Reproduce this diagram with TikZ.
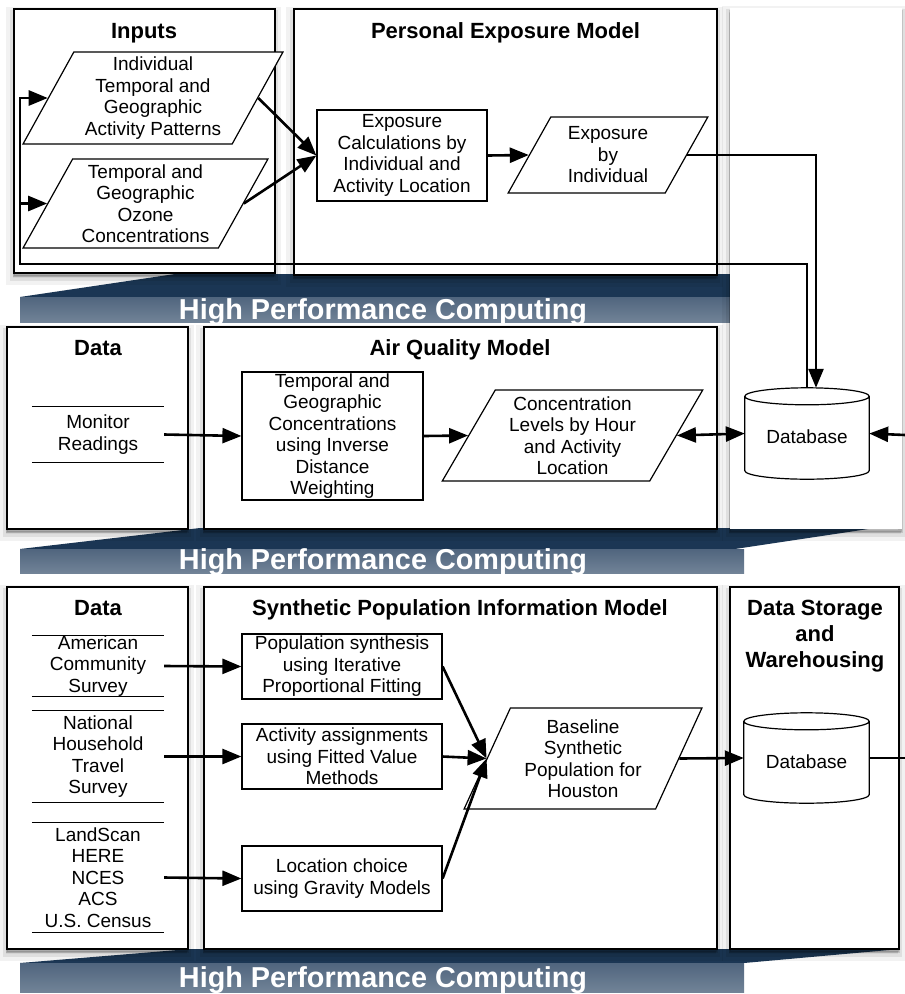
\documentclass[tikz,border=0pt]{standalone}
\usepackage{fontspec}
\setmainfont{Liberation Sans}
\usetikzlibrary{shapes.geometric,arrows.meta,calc,shadows}
\definecolor{navy}{HTML}{1B3654}
\definecolor{bartop}{HTML}{50657E}
\definecolor{barbot}{HTML}{718397}
\newcommand{\bodysize}{\fontsize{19}{21.5}\selectfont}
\newcommand{\titlesize}{\fontsize{22}{26}\selectfont\bfseries}
\newcommand{\drawdb}[1]{%
  \path[dbline] let \p1=(#1.north west), \p2=(#1.south east), \n1={(\x2-\x1)/2} in
    (\x1,\y1-8.5pt) -- (\x1,\y2+8.5pt)
    arc[start angle=180,end angle=360,x radius=\n1,y radius=8.5pt]
    -- (\x2,\y1-8.5pt)
    arc[start angle=0,end angle=360,x radius=\n1,y radius=8.5pt];}
\begin{document}
\begin{tikzpicture}[x=1pt,y=-1pt,
  every node/.style={inner sep=0pt},
  softshadow/.style={
    general shadow={fill=black,draw=black,fill opacity=0.05,draw opacity=0.05,line width=14pt,shadow yshift=-5pt,shadow xshift=-1pt},
    general shadow={fill=black,draw=black,fill opacity=0.08,draw opacity=0.08,line width=7pt,shadow yshift=-4pt,shadow xshift=-1pt},
    general shadow={fill=black,draw=black,fill opacity=0.12,draw opacity=0.12,line width=2pt,shadow yshift=-3pt}},
  panelbox/.style={draw=black,line width=1.5pt,fill=white,softshadow},
  blankpanel/.style={draw=none,fill=white,softshadow},
  paneltitle/.style={font=\titlesize,align=center},
  procbox/.style={draw=black,line width=1.2pt,fill=white,align=center,font=\bodysize},
  iobox/.style={trapezium,trapezium stretches=true,draw=black,line width=1.2pt,fill=white,align=center,font=\bodysize},
  srcnode/.style={align=center,font=\bodysize,minimum width=132pt},
  srcline/.style={line width=1.2pt},
  dbnode/.style={minimum width=#1,align=center,font=\bodysize},
  dbline/.style={draw=black,fill=white,line width=1.2pt},
  conn/.style={line width=2.6pt,-{Triangle[length=19pt,width=15pt]}},
  conntwo/.style={line width=2.6pt,{Triangle[length=19pt,width=15pt]}-{Triangle[length=19pt,width=15pt]}},
  plainline/.style={line width=2.6pt},
  darkband/.style={fill=navy},
  lightbar/.style={top color=bartop,bottom color=barbot},
  hpctext/.style={font=\fontsize{28.8}{30}\selectfont\bfseries,text=white,anchor=base}
]
\useasboundingbox (0,0) rectangle (905,994);
\fill[white] (0,0) rectangle (905,994);

% ---------- bands ----------
\fill[darkband] (20,297) -- (175,274) -- (730,274) -- (730,297) -- cycle;
\shade[lightbar] (20,297) rectangle (730,322);
\fill[darkband] (20,549) -- (200,528) -- (875,528) -- (735,549) -- cycle;
\shade[lightbar] (20,549) rectangle (744,573);
\fill[darkband] (20,963) -- (190,949) -- (900,949) -- (744,963) -- cycle;
\shade[lightbar] (20,963) rectangle (744,992);
\node[hpctext] (hpc1) at (383,319) {High Performance Computing};
\node[hpctext] (hpc2) at (383,569) {High Performance Computing};
\node[hpctext] (hpc3) at (383,987) {High Performance Computing};

% ---------- panels ----------
\node[blankpanel,minimum width=172pt,minimum height=521pt] (rpanel) at (816,268.5) {};
\node[panelbox,minimum width=261pt,minimum height=264pt] (inputs) at (144.5,141) {};
\node[panelbox,minimum width=423pt,minimum height=266pt] (pem) at (505.5,142) {};
\node[panelbox,minimum width=181pt,minimum height=202pt] (data1) at (97.5,428) {};
\node[panelbox,minimum width=513pt,minimum height=202pt] (aqm) at (460.5,428) {};
\node[panelbox,minimum width=181pt,minimum height=362pt] (data2) at (97.5,768) {};
\node[panelbox,minimum width=513pt,minimum height=362pt] (spim) at (460.5,768) {};
\node[panelbox,minimum width=169pt,minimum height=362pt] (dsw) at (814.5,768) {};

% ---------- titles ----------
\node[paneltitle,anchor=base] (tinputs) at (144,38) {Inputs};
\node[paneltitle,anchor=base] (tpem) at (505.5,38) {Personal Exposure Model};
\node[paneltitle,anchor=base] (tdata1) at (98,355) {Data};
\node[paneltitle,anchor=base] (taqm) at (460,355) {Air Quality Model};
\node[paneltitle,anchor=base] (tdata2) at (98,615) {Data};
\node[paneltitle,anchor=base] (tspim) at (460,615) {Synthetic Population Information Model};
\node[paneltitle,anchor=north] (tdsw) at (815,600) {Data Storage\\and\\Warehousing};

% ---------- top panel ----------
\node[iobox,trapezium left angle=62,trapezium right angle=118,minimum width=260pt,minimum height=92pt] (p1) at (153,98)
  {Individual\\Temporal and\\Geographic\\Activity Patterns};
\node[iobox,trapezium left angle=61,trapezium right angle=119,minimum width=245pt,minimum height=89pt] (p2) at (145.5,203.5)
  {Temporal and\\Geographic\\Ozone\\Concentrations};
\node[procbox,minimum width=170pt,minimum height=91pt] (ecalc) at (402,155.5)
  {Exposure\\Calculations by\\Individual and\\Activity Location};
\node[iobox,trapezium left angle=62,trapezium right angle=118,minimum width=200pt,minimum height=76pt] (expo) at (608,155)
  {Exposure\\by\\Individual};

% ---------- middle panel ----------
\node[srcnode,minimum height=55pt] (mr) at (98,434.5) {Monitor\\Readings};
\node[procbox,minimum width=181pt,minimum height=128pt] (tgc) at (332.5,436)
  {Temporal and\\Geographic\\Concentrations\\using Inverse\\Distance\\Weighting};
\node[iobox,trapezium left angle=61,trapezium right angle=119,minimum width=261pt,minimum height=91pt] (conc) at (572.5,435.5)
  {Concentration\\Levels by Hour\\and Activity\\Location};
\node[dbnode=124pt,minimum height=91pt] (db1) at (807,433.5) {};
\drawdb{db1}
\node[font=\bodysize] (db1t) at (807,437) {Database};

% ---------- bottom panel ----------
\node[srcnode,minimum height=60pt] (acs) at (98,666) {American\\Community\\Survey};
\node[srcnode,minimum height=91pt] (nhts) at (98,756.5) {National\\Household\\Travel\\Survey};
\node[srcnode,minimum height=109pt] (land) at (98,877.5) {LandScan\\HERE\\NCES\\ACS\\U.S. Census};
\node[procbox,minimum width=200pt,minimum height=65pt] (popsyn) at (342,666.5)
  {Population synthesis\\using Iterative\\Proportional Fitting};
\node[procbox,minimum width=200pt,minimum height=65pt] (actas) at (342,756.5)
  {Activity assignments\\using Fitted Value\\Methods};
\node[procbox,minimum width=200pt,minimum height=65pt] (locch) at (342,878.5)
  {Location choice\\using Gravity Models};
\node[iobox,trapezium left angle=64.5,trapezium right angle=115.5,minimum width=238pt,minimum height=101pt] (base) at (583,758.5)
  {Baseline\\Synthetic\\Population for\\Houston};
\node[dbnode=125pt,minimum height=90pt] (db2) at (806.5,758) {};
\drawdb{db2}
\node[font=\bodysize] (db2t) at (806.5,762) {Database};

% source separator lines
\foreach \s in {mr,acs,nhts,land}{
  \draw[srcline] (\s.north west) -- (\s.north east) (\s.south west) -- (\s.south east);
}

% ---------- connectors ----------
\coordinate (fbL) at (20,264);
\coordinate (edgeA) at (905,435);
\coordinate (edgeB) at (905,758);

\draw[conn] (p1.east) -- (ecalc.west);
\draw[conn] (p2.east) -- (ecalc.west);
\draw[conn] (ecalc.east) -- (expo.west);
\draw[conn] (expo.east) -| ($(db1.north)+(9,0)$);
\draw[conn] (db1.north) |- (fbL) |- (p1.west);
\draw[conn] (fbL) |- (p2.west);

\draw[conn] (mr.east) -- (tgc.west);
\draw[conn] (tgc.east) -- (conc.west);
\draw[conntwo] (conc.east) -- (db1.west);
\draw[conn] (edgeA) -- (db1.east);

\draw[conn] (acs.east) -- (popsyn.west);
\draw[conn] (nhts.east) -- (actas.west);
\draw[conn] (land.east) -- (locch.west);
\draw[conn] (popsyn.east) -- (base.west);
\draw[conn] (actas.east) -- (base.west);
\draw[conn] (locch.east) -- (base.west);
\draw[conn] (base.east) -- (db2.west);
\draw[plainline] (db2.east) -- (edgeB);
\end{tikzpicture}
\end{document}
